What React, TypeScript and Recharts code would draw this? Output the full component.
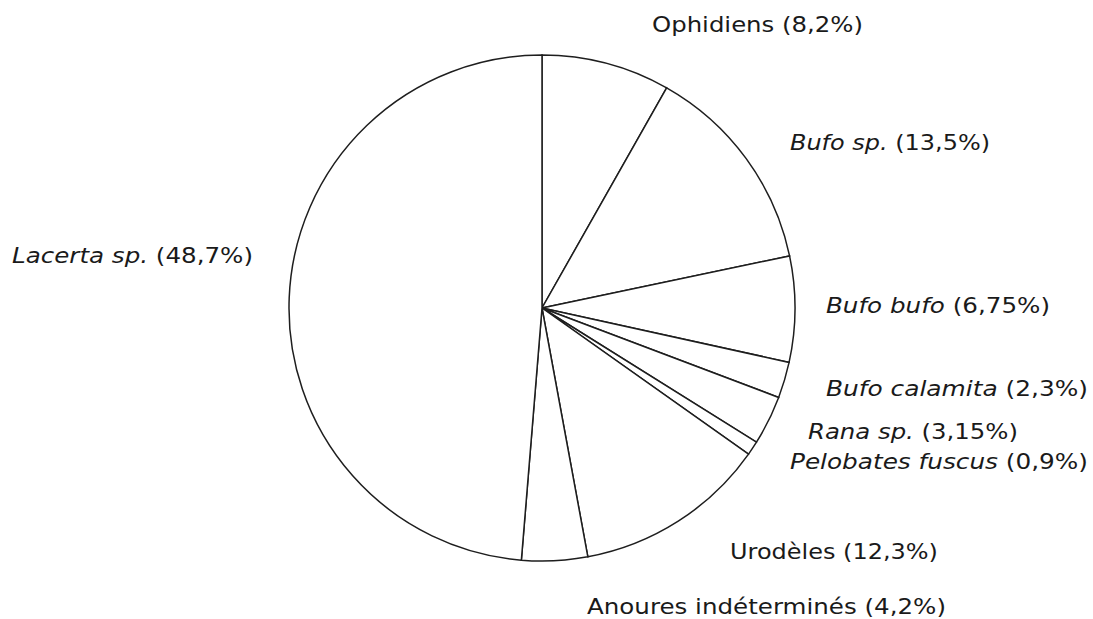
import { PieChart, Pie, Cell } from "recharts";

// taxa, clockwise from 12 o'clock
const taxa = [
  "Ophidiens",
  "Bufo sp.",
  "Bufo bufo",
  "Bufo calamita",
  "Rana sp.",
  "Pelobates fuscus",
  "Urodèles",
  "Anoures indéterminés",
  "Lacerta sp.",
];
const shares = [8.2, 13.5, 6.75, 2.3, 3.15, 0.9, 12.3, 4.2, 48.7];
const italicName = [false, true, true, true, true, true, false, false, true];

// label layout: left x, baseline y, drawn width
const labelX = [652, 790, 826, 826, 808, 790, 730, 587, 12];
const labelY = [32, 150, 313, 396, 439, 469, 559, 614, 263];
const labelW = [211, 200, 224, 262, 210, 298, 208, 359, 241];

const data = taxa.map((name, i) => ({ name, value: shares[i] }));

const fmt = (v: number) => `(${String(v).replace(".", ",")}%)`;

function renderLabel(props: any) {
  const i = props.index;
  return (
    <text
      key={i}
      x={labelX[i]}
      y={labelY[i]}
      textAnchor="start"
      fill="#1a1a1a"
      fontSize={21}
      fontFamily="DejaVu Sans, sans-serif"
      textLength={labelW[i]}
      lengthAdjust="spacingAndGlyphs"
    >
      <tspan fontStyle={italicName[i] ? "italic" : "normal"}>{taxa[i]}</tspan>
      <tspan> {fmt(shares[i])}</tspan>
    </text>
  );
}

export default function App() {
  return (
    <div style={{ position: "absolute", left: 0, top: 0, background: "#fff" }}>
      <PieChart width={1093} height={619} margin={{ top: 0, right: 0, bottom: 0, left: 0 }}>
        <Pie
          data={data}
          dataKey="value"
          nameKey="name"
          cx={542}
          cy={308}
          outerRadius={253}
          startAngle={90}
          endAngle={-270}
          label={renderLabel}
          labelLine={false}
          isAnimationActive={false}
        >
          {data.map((d, i) => (
            <Cell key={i} fill="#ffffff" stroke="#1e1e1e" strokeWidth={1.5} />
          ))}
        </Pie>
      </PieChart>
    </div>
  );
}
